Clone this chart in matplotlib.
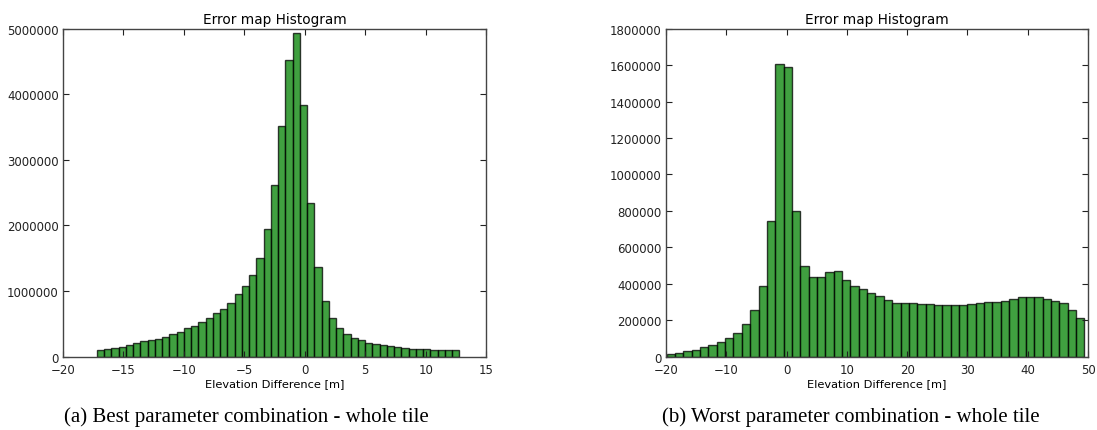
import numpy as np
from matplotlib import pyplot as plt

# best combination histogram (counts)
best_lo, best_hi = -17.2, 12.8
best_counts = [100000, 110000, 130000, 150000, 170000, 200000, 230000, 250000, 270000, 300000,
               350000, 380000, 430000, 470000, 520000, 590000, 660000, 730000, 820000, 950000,
               1080000, 1250000, 1510000, 1940000, 2620000, 3510000, 4530000, 4940000, 3840000, 2340000,
               1370000, 850000, 590000, 440000, 350000, 290000, 245000, 210000, 190000, 170000,
               155000, 140000, 130000, 120000, 115000, 110000, 105000, 100000, 95000, 95000]

# worst combination histogram
worst_lo, worst_hi = -19.9, 49.4
worst_counts = [13000, 18000, 31000, 37000, 51000, 62000, 77000, 101000, 130000, 178000,
                255000, 385000, 743000, 1609000, 1591000, 798000, 497000, 435000, 435000, 462000,
                468000, 422000, 385000, 371000, 349000, 332000, 310000, 295000, 292000, 292000,
                288000, 288000, 283000, 281000, 281000, 283000, 286000, 294000, 299000, 299000,
                306000, 314000, 325000, 328000, 327000, 317000, 306000, 292000, 253000, 211000]

captions = ['(a) Best parameter combination - whole tile',
            '(b) Worst parameter combination - whole tile']


def draw_hist(ax, lo, hi, counts, xlim, ylim, ystep):
    edges = np.linspace(lo, hi, len(counts) + 1)
    centers = (edges[:-1] + edges[1:]) / 2
    ax.hist(centers, bins=edges, weights=counts, facecolor='green', edgecolor='black',
            alpha=0.75, linewidth=1.0)
    ax.set_xlim(*xlim)
    ax.set_ylim(*ylim)
    ax.set_yticks(np.arange(ylim[0], ylim[1] + 1, ystep))
    ax.ticklabel_format(style='plain', axis='y', useOffset=False)
    ax.set_title('Error map Histogram', fontsize=9.8, pad=4)
    ax.set_xlabel('Elevation Difference [m]', fontsize=8.2, labelpad=2)
    ax.tick_params(direction='in', top=True, right=True, length=4, labelsize=8.5,
                   colors='#222222', pad=3)
    ax.tick_params(axis='x', pad=4.5)
    for s in ax.spines.values():
        s.set_color('#444444')
        s.set_linewidth(1.0)


fig = plt.figure(figsize=(10.97, 4.31), dpi=100)
ax1 = fig.add_axes([0.0574, 0.1705, 0.3857, 0.7605])
ax2 = fig.add_axes([0.6071, 0.1705, 0.3847, 0.7605])

draw_hist(ax1, best_lo, best_hi, best_counts, (-20, 15), (0, 5000000), 1000000)
draw_hist(ax2, worst_lo, worst_hi, worst_counts, (-20, 50), (0, 1800000), 200000)

fig.text(0.225, 0.0325, captions[0], ha='center', va='center',
         family='Liberation Serif', fontsize=15)
fig.text(0.776, 0.0325, captions[1], ha='center', va='center',
         family='Liberation Serif', fontsize=15)

fig.savefig('out.png', dpi=100)
